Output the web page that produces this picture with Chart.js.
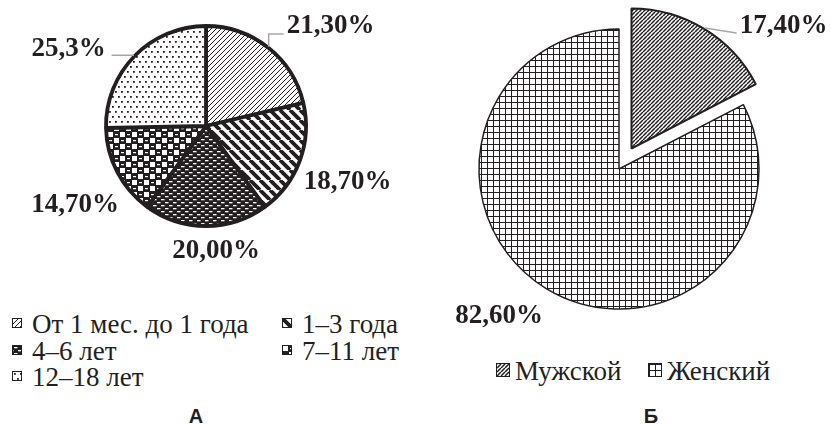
<!DOCTYPE html>
<html lang="ru">
<head>
<meta charset="utf-8">
<script src="https://cdn.jsdelivr.net/npm/chart.js@4"></script>
<style>
  html, body { margin: 0; padding: 0; background: #fff; }
  #wrap { position: relative; width: 831px; height: 425px; overflow: hidden;
          font-family: "Liberation Serif", "Times New Roman", serif; color: #231f20; }
  canvas { position: absolute; }
  #chartA { left: 0; top: 0; }
  #chartB { left: 415px; top: 0; }
  .item { position: absolute; font-family: "Liberation Serif", serif; font-size: 27px; line-height: 26px; white-space: nowrap; }
  .sw { display: inline-block; border: 1px solid #231f20; box-sizing: border-box; }
  .cap { position: absolute; width: 40px; text-align: center; font-family: "Liberation Sans", Arial, sans-serif;
         font-weight: bold; font-size: 20px; line-height: 20px; }
</style>
</head>
<body>
<div id="wrap">
  <canvas id="chartA" width="412" height="300"></canvas>
  <canvas id="chartB" width="416" height="340"></canvas>
  <div id="legendA"></div>
  <div id="legendB"></div>
  <div class="cap" style="left:176px; top:406px;">А</div>
  <div class="cap" style="left:631px; top:406px;">Б</div>
</div>
<script>
// --- Data ---
const ageGroups = ['От 1 мес. до 1 года', '1–3 года', '4–6 лет', '7–11 лет', '12–18 лет'];
const ageShares = [21.3, 18.7, 20.0, 14.7, 25.3];
const ageLabels = ['21,30%', '18,70%', '20,00%', '14,70%', '25,3%'];

const sexGroups = ['Мужской', 'Женский'];
const sexShares = [17.4, 82.6];
const sexLabels = ['17,40%', '82,60%'];

const INK = '#231f20';

// --- Pattern tiles ---
function tile(w, h, bg, draw) {
    const c = document.createElement('canvas');
    c.width = w; c.height = h;
    const g = c.getContext('2d');
    g.fillStyle = bg;
    g.fillRect(0, 0, w, h);
    g.fillStyle = g.strokeStyle = bg === '#fff' ? INK : '#fff';
    draw(g, w, h);
    return c;
}

function diag(g, s, lw, up) {
    g.lineWidth = lw;
    g.beginPath();
    for (let k = -1; k <= 1; k++) {
        if (up) { g.moveTo(k * s, s); g.lineTo(k * s + s, 0); }
        else { g.moveTo(k * s, 0); g.lineTo(k * s + s, s); }
    }
    g.stroke();
}

const ageTiles = [
    tile(5, 5, '#fff', g => diag(g, 5, 1, true)),
    tile(10, 10, '#fff', g => diag(g, 10, 3.8, false)),
    tile(8, 6, INK, g => {
        g.fillRect(1, 1, 3.5, 1.3);
        g.fillRect(5, 4, 3.5, 1.3);
        g.fillRect(-3, 4, 3.5, 1.3);
    }),
    tile(12, 12, INK, g => {
        g.fillRect(0, 0, 5, 5);
        g.fillRect(6, 6, 5, 5);
        g.fillRect(7, 2, 3, 1.2);
        g.fillRect(1, 8, 3, 1.2);
    }),
    tile(6, 10, '#fff', g => {
        g.fillRect(1, 1, 1.8, 1.8);
        g.fillRect(4, 6, 1.8, 1.8);
    })
];
const sexTiles = [
    tile(4, 4, '#fff', g => diag(g, 4, 1.5, true)),
    tile(6, 6, '#fff', g => { g.fillRect(0, 0, 6, 1); g.fillRect(0, 0, 1, 6); })
];

function patterns(canvas, tiles) {
    const ctx = canvas.getContext('2d');
    return tiles.map(t => ctx.createPattern(t, 'repeat'));
}

// --- Plugins ---
// pull slices out of the pie by a fixed distance
const explode = {
    id: 'explode',
    afterUpdate(chart, args, opts) {
        const arcs = chart.getDatasetMeta(0).data;
        (opts.dist || []).forEach((d, i) => {
            if (!d) return;
            const a = arcs[i];
            const mid = (a.startAngle + a.endAngle) / 2;
            a.x += Math.cos(mid) * d;
            a.y += Math.sin(mid) * d;
        });
    }
};

// percent labels with grey leader lines
const sliceLabels = {
    id: 'sliceLabels',
    afterDraw(chart, args, opts) {
        const ctx = chart.ctx;
        const area = chart.chartArea;
        const cx = (area.left + area.right) / 2;
        const cy = (area.top + area.bottom) / 2;
        const arcs = chart.getDatasetMeta(0).data;
        ctx.save();
        ctx.font = 'bold 27px "Liberation Serif", "Times New Roman", serif';
        ctx.textAlign = 'center';
        ctx.textBaseline = 'alphabetic';
        opts.texts.forEach((txt, i) => {
            const tx = cx + opts.pos[i][0];
            const ty = cy + opts.pos[i][1];
            const w = ctx.measureText(txt).width;
            const kind = opts.leaders[i];
            if (kind) {
                const a = arcs[i];
                const mid = (a.startAngle + a.endAngle) / 2;
                const px = a.x + Math.cos(mid) * (a.outerRadius + 1);
                const py = a.y + Math.sin(mid) * (a.outerRadius + 1);
                const ex = tx > px ? tx - w / 2 - 3 : tx + w / 2 + 6;
                ctx.strokeStyle = '#a6a6a6';
                ctx.lineWidth = 1.5;
                ctx.beginPath();
                ctx.moveTo(px, py);
                if (kind === 'elbow') {
                    ctx.lineTo(px, ty + 1);
                    ctx.lineTo(ex, ty + 1);
                } else {
                    ctx.lineTo(ex, kind === 'flat' ? py : ty);
                }
                ctx.stroke();
            }
            ctx.fillStyle = INK;
            ctx.fillText(txt, tx, ty);
        });
        ctx.restore();
    }
};

const baseOptions = {
    responsive: false,
    animation: false,
    events: [],
    plugins: { legend: { display: false }, tooltip: { enabled: false } }
};

// --- Chart A: age ---
const canvasA = document.getElementById('chartA');
const agePatterns = patterns(canvasA, ageTiles);
new Chart(canvasA, {
    type: 'pie',
    data: {
        labels: ageGroups,
        datasets: [{
            data: ageShares,
            backgroundColor: agePatterns,
            borderColor: INK,
            borderWidth: 3.8,
            radius: 100
        }]
    },
    options: {
        ...baseOptions,
        layout: { padding: { bottom: 48 } },
        plugins: {
            ...baseOptions.plugins,
            sliceLabels: {
                texts: ageLabels,
                pos: [[124.5, -93], [141.5, 63], [10, 132], [-131, 86], [-137.5, -70]],
                leaders: ['elbow', null, null, null, 'flat']
            }
        }
    },
    plugins: [sliceLabels]
});

// --- Chart B: sex ---
const canvasB = document.getElementById('chartB');
const sexPatterns = patterns(canvasB, sexTiles);
new Chart(canvasB, {
    type: 'pie',
    data: {
        labels: sexGroups,
        datasets: [{
            data: sexShares,
            backgroundColor: sexPatterns,
            borderColor: INK,
            borderWidth: [2, 1.5],
            radius: 140
        }]
    },
    options: {
        ...baseOptions,
        layout: { padding: { right: 8, bottom: 2 } },
        plugins: {
            ...baseOptions.plugins,
            explode: { dist: [24, 0] },
            sliceLabels: {
                texts: sexLabels,
                pos: [[164.5, -136], [-120, 154]],
                leaders: ['direct', null]
            }
        }
    },
    plugins: [explode, sliceLabels]
});

// --- HTML legends ---
function addItem(box, text, tileCanvas, left, baseline, size, vAlign, gap) {
    const item = document.createElement('div');
    item.className = 'item';
    item.style.left = left + 'px';
    item.style.top = (baseline - 22) + 'px';
    const sw = document.createElement('span');
    sw.className = 'sw';
    sw.style.width = sw.style.height = size + 'px';
    sw.style.verticalAlign = vAlign + 'px';
    sw.style.marginRight = gap + 'px';
    sw.style.backgroundImage = 'url(' + tileCanvas.toDataURL() + ')';
    item.appendChild(sw);
    item.appendChild(document.createTextNode(text));
    box.appendChild(item);
}

const legendA = document.getElementById('legendA');
const ageSlots = [[12, 333], [282, 333], [12, 359.5], [282, 359.5], [12, 386]];
ageGroups.forEach((g, i) => addItem(legendA, g, ageTiles[i], ageSlots[i][0], ageSlots[i][1], 10, 5, 10));

const legendB = document.getElementById('legendB');
const sexSlots = [[496, 380], [648, 380]];
sexGroups.forEach((g, i) => addItem(legendB, g, sexTiles[i], sexSlots[i][0], sexSlots[i][1], 14, 3, 5));
</script>
</body>
</html>
